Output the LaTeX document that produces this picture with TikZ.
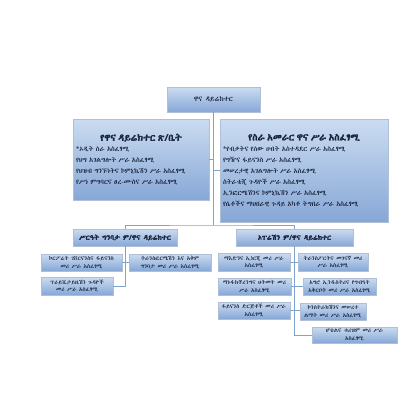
\documentclass[tikz,border=0pt]{standalone}
\usepackage{fontspec}
\IfFontExistsTF{Abyssinica SIL}{\setmainfont[AutoFakeBold=2]{Abyssinica SIL}}{%
  \setmainfont[BoldFont=FreeSerifBold.otf]{FreeSerif.otf}}
\usepackage{tikz}
\definecolor{boxtop}{RGB}{203,220,241}
\definecolor{boxbottom}{RGB}{134,167,214}
\definecolor{boxedge}{RGB}{175,192,214}
\definecolor{linkblue}{RGB}{125,163,207}
\definecolor{inkdark}{RGB}{25,35,60}
\tikzset{
  orgbox/.style={draw=boxedge, top color=boxtop, bottom color=boxbottom,
    text=inkdark, inner sep=1pt, align=center,
    font=\fontsize{5.7}{7.6}\selectfont},
  unitbox/.style={orgbox, minimum height=17pt},
  deputybox/.style={orgbox, minimum height=17pt,
    font=\fontsize{7}{8}\selectfont\bfseries},
  bigbox/.style={orgbox, align=left, inner sep=3pt,
    font=\fontsize{6.8}{11}\selectfont},
  link/.style={draw=linkblue, line width=0.7pt},
}

\begin{document}
\begin{tikzpicture}[x=1pt, y=1pt]
  \useasboundingbox (0,0) rectangle (420,-420);
  % director and the two offices under him
  \node[orgbox, minimum width=93pt, minimum height=25pt,
    font=\fontsize{7}{8}\selectfont] (dg) at (213.5,-99.5) {ዋና ዳይሬክተር};
  \node[bigbox, text width=130pt, minimum height=81pt] (office) at (141,-159.5)
    {{\centering\fontsize{9.5}{13}\selectfont\bfseries የዋና ዳይሬክተር ጽ/ቤት\par}
     *ኦዲት ስራ አስፈፃሚ\\
     *የህግ አገልግሎት ሥራ አስፈፃሚ\\
     *የህዝብ ግንኙነትና ኮምኒኬሽን ሥራ አስፈፃሚ\\
     *የሥነ ምግባርና ፀረ-ሙስና ሥራ አስፈፃሚ};
  \node[bigbox, text width=162pt, minimum height=103pt] (mgmt) at (304,-170.5)
    {{\centering\fontsize{9.5}{13}\selectfont\bfseries የስራ አመራር ዋና ሥራ አስፈፃሚ\par}
     *የብቃትና የሰው ሀብት አስተዳደር ሥራ አስፈፃሚ\\
     *የግዥና ፋይናንስ ሥራ አስፈፃሚ\\
     *መሠረታዊ አገልግሎት ሥራ አስፈፃሚ\\
     *ስትራቴጂ ጉዳዮች ሥራ አስፈፃሚ\\
     *ኢንፎርሜሽንና ኮምኒኬሽን ሥራ አስፈፃሚ\\
     *የሴቶችና ማህበራዊ ጉዳይ አካቶ ትግበራ ሥራ አስፈፃሚ\\[6pt]};

  % deputies
  \node[deputybox, minimum width=104pt] (sysdep) at (125,-237.5)
    {ሥርዓት ግንባታ ም/ዋና ዳይሬክተር};
  \node[deputybox, minimum width=117pt] (opdep) at (294.5,-237.5)
    {ኦፐሬሽን ም/ዋና ዳይሬክተር};

  % units under the system deputy
  \node[unitbox, minimum width=81pt] (corpfin) at (81.5,-262.5)
    {ኮርፖሬት ገቨርናንስና ፋይናንስ\\ መሪ ሥራ አስፈፃሚ};
  \node[unitbox, minimum width=82pt] (transf) at (170,-262.5)
    {ትራንስፎርሜሽን እና አቅም\\ ግንባታ መሪ ሥራ አስፈፃሚ};
  \node[unitbox, minimum width=72pt, minimum height=18pt] (privat) at (77,-286)
    {ፕራይቬታይዜሽን ጉዳዮች\\ መሪ ሥራ አስፈፃሚ};

  % units under the operations deputy
  \node[unitbox, minimum width=72pt, minimum height=18pt] (mining) at (254,-262)
    {ማእድንና ኢነርጂ መሪ ሥራ\\ አስፈፃሚ};
  \node[unitbox, minimum width=70pt, minimum height=18pt] (transp) at (333,-262)
    {ትራንስፖርትና መገናኛ መሪ\\ ሥራ አስፈፃሚ};
  \node[unitbox, minimum width=73pt] (manuf) at (254.5,-286.5)
    {ማኑፋክቸሪንግና ህትመት መሪ\\ ሥራ አስፈፃሚ};
  \node[unitbox, minimum width=73pt] (agro) at (339.5,-286.5)
    {አግሮ ኢንዱስትሪና የግብዓት\\ አቅርቦት መሪ ሥራ አስፈፃሚ};
  \node[unitbox, minimum width=72pt] (finorg) at (254,-310.5)
    {ፋይናንስ ድርጅቶች መሪ ሥራ\\ አስፈፃሚ};
  \node[unitbox, minimum width=66pt] (constr) at (333,-311.5)
    {ኮንስትራክሽንና መሠረተ\\ ልማት መሪ ሥራ አስፈፃሚ};
  \node[unitbox, minimum width=85pt, minimum height=16pt] (hotel) at (354.5,-335)
    {ሆቴልና ቱሪዝም መሪ ሥራ\\ አስፈፃሚ};

  % connectors
  \coordinate (bar) at (213,-225);
  \draw[link] (dg.south) -- (dg.south |- bar);
  \draw[link] (office.east) -- (office.east -| dg.south);
  \draw[link] (mgmt.west) -- (mgmt.west -| dg.south);
  \draw[link] (sysdep.north) |- (bar) -| (opdep.north);
  \draw[link] (sysdep.south) |- (privat.east);
  \draw[link] (corpfin.east) -- (transf.west);
  \draw[link] (opdep.south) |- (hotel.west);
  \draw[link] (mining.east) -- (transp.west);
  \draw[link] (manuf.east) -- (agro.west);
  \draw[link] (finorg.east) -- (finorg.east -| constr.west);
\end{tikzpicture}
\end{document}
